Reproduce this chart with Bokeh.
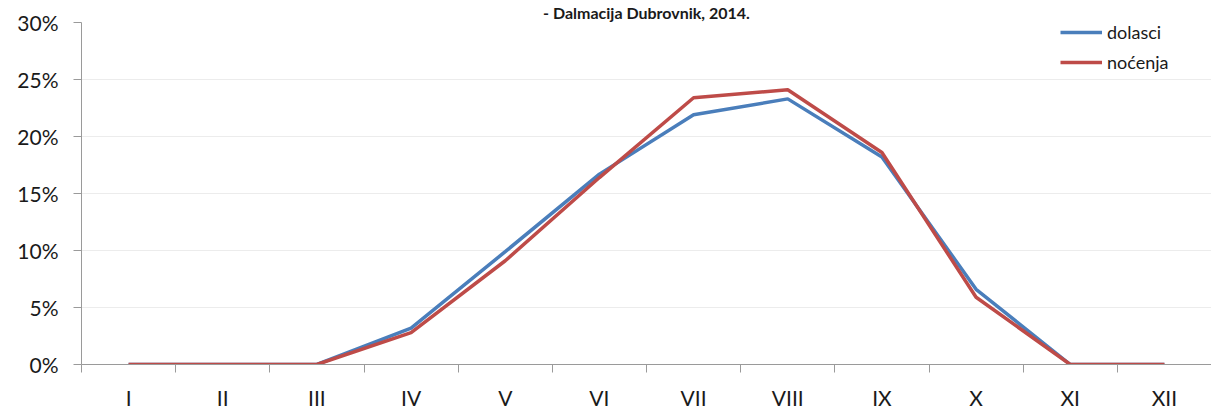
from bokeh.plotting import figure
from bokeh.models import FixedTicker, NumeralTickFormatter, Range1d, Legend, LegendItem, ColumnDataSource
from bokeh.embed import file_html
from bokeh.resources import INLINE

months = ["I", "II", "III", "IV", "V", "VI", "VII", "VIII", "IX", "X", "XI", "XII"]
dolasci = [0.0, 0.0, 0.0, 3.2, 9.9, 16.7, 21.9, 23.3, 18.2, 6.6, 0.0, 0.0]
nocenja = [0.0, 0.0, 0.0, 2.8, 9.1, 16.4, 23.4, 24.1, 18.6, 5.9, 0.0, 0.0]
title_text = "- Dalmacija Dubrovnik, 2014."

FONT = "Lato"
xs = [i + 0.5 for i in range(len(months))]
src = ColumnDataSource(dict(x=xs,
                            d=[v / 100 for v in dolasci],
                            n=[v / 100 for v in nocenja]))

p = figure(width=1211, height=412, output_backend="svg", toolbar_location=None,
           x_range=Range1d(0, 12), y_range=Range1d(0, 0.30),
           min_border_left=81, min_border_right=0, min_border_top=22, min_border_bottom=46)
p.outline_line_color = None
p.background_fill_color = "white"
p.border_fill_color = "white"

p.title.text = title_text
p.title.align = "center"
p.title.offset = -30
p.title.standoff = 1
p.title.text_font = FONT
p.title.text_font_style = "bold"
p.title.text_font_size = "16px"
p.title.text_color = "#1a1a1a"

r1 = p.line("x", "d", source=src, line_color="#4A7EBB", line_width=3.5)
r2 = p.line("x", "n", source=src, line_color="#BE4B48", line_width=3.5)

# x axis
p.xaxis.ticker = FixedTicker(ticks=xs, minor_ticks=list(range(13)))
p.xaxis.major_label_overrides = {x: m for x, m in zip(xs, months)}
p.xaxis.major_tick_out = 0
p.xaxis.major_tick_in = 0
p.xaxis.minor_tick_out = 8
p.xaxis.minor_tick_in = 0
p.xaxis.major_label_standoff = 12
p.xaxis.major_label_text_font = FONT
p.xaxis.major_label_text_font_size = "21px"
p.xaxis.major_label_text_color = "#1a1a1a"
p.xaxis.axis_line_color = "#9a9a9a"
p.xaxis.minor_tick_line_color = "#9a9a9a"
p.xgrid.visible = False

# y axis
p.yaxis.ticker = FixedTicker(ticks=[0, 0.05, 0.10, 0.15, 0.20, 0.25, 0.30])
p.yaxis.formatter = NumeralTickFormatter(format="0%")
p.yaxis.major_tick_out = 8
p.yaxis.major_tick_in = 0
p.yaxis.minor_tick_line_color = None
p.yaxis.major_label_standoff = 15
p.yaxis.major_label_text_font = FONT
p.yaxis.major_label_text_font_size = "21px"
p.yaxis.major_label_text_color = "#1a1a1a"
p.yaxis.axis_line_color = "#9a9a9a"
p.yaxis.major_tick_line_color = "#9a9a9a"
p.ygrid.grid_line_color = "#ececec"

legend = Legend(items=[LegendItem(label="dolasci", renderers=[r1]),
                       LegendItem(label="noćenja", renderers=[r2])],
                location=(979, 291), padding=0, margin=0, spacing=8,
                glyph_width=42, glyph_height=20, label_height=20, label_standoff=5,
                label_text_font=FONT, label_text_font_size="18px", label_text_color="#1a1a1a",
                border_line_color=None, background_fill_alpha=0)
p.add_layout(legend, "center")

open("out.html", "w").write(file_html(p, INLINE))
